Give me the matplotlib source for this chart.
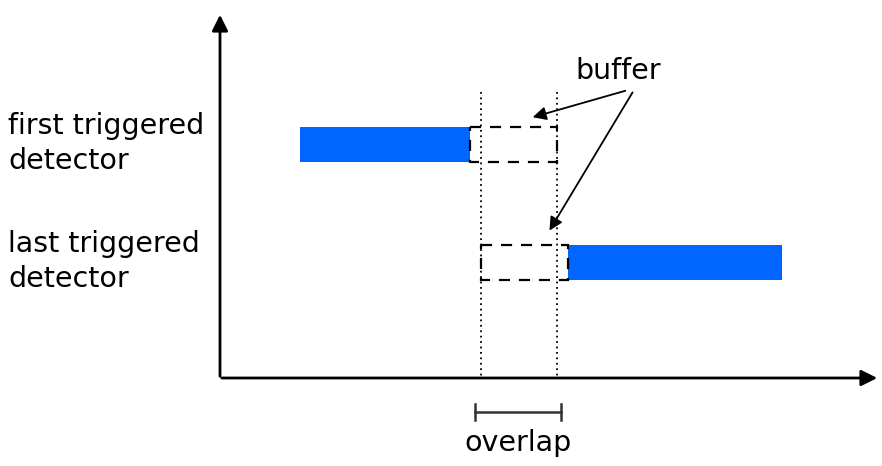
import matplotlib.pyplot as plt
from matplotlib.patches import Rectangle

# diagram data (in picture units, x grows right, y grows down)
row_labels = ['first triggered\ndetector', 'last triggered\ndetector']
row_top = [127, 245]
row_height = 35
bar_start = [300, 568]
bar_end = [470, 782]
buffer_start = [470, 481]
buffer_end = [557, 568]
overlap = [481, 557]
blue = '#0066ff'

fig = plt.figure(figsize=(8.82, 4.66), dpi=100)
ax = fig.add_axes([0, 0, 1, 1])
ax.set_xlim(0, 882)
ax.set_ylim(466, 0)
ax.axis('off')

# axes with arrows
ax.annotate('', xy=(220, 12), xytext=(220, 379),
            arrowprops=dict(arrowstyle='-|>', color='black', lw=2, mutation_scale=24))
ax.annotate('', xy=(880, 378), xytext=(219, 378),
            arrowprops=dict(arrowstyle='-|>', color='black', lw=2, mutation_scale=24))

# overlap limits
for xv in overlap:
    ax.plot([xv, xv], [92, 376], color='black', lw=1.3, ls=(0, (1, 2)))

# bars and buffers
for i in range(2):
    ax.add_patch(Rectangle((bar_start[i], row_top[i]), bar_end[i] - bar_start[i], row_height,
                           facecolor=blue, edgecolor='none'))
    ax.add_patch(Rectangle((buffer_start[i], row_top[i]), buffer_end[i] - buffer_start[i], row_height,
                           facecolor='none', edgecolor='black', lw=1.6, ls=(0, (5, 4))))
    ax.text(8, row_top[i] + row_height / 2 - 1, row_labels[i], fontsize=20.5,
            ha='left', va='center', linespacing=1.3)

# buffer label and arrows
ax.text(618, 71, 'buffer', fontsize=20.5, ha='center', va='center')
ax.annotate('', xy=(530, 118), xytext=(628, 90),
            arrowprops=dict(arrowstyle='-|>', color='black', lw=1.3, mutation_scale=20))
ax.annotate('', xy=(548, 233), xytext=(634, 90),
            arrowprops=dict(arrowstyle='-|>', color='black', lw=1.3, mutation_scale=20))

# overlap bracket
ax.plot([overlap[0] - 6, overlap[1] + 4], [412, 412], color='#333333', lw=1.8)
for xv in [overlap[0] - 6, overlap[1] + 4]:
    ax.plot([xv, xv], [404, 420], color='#333333', lw=1.8)
ax.text(518, 443, 'overlap', fontsize=20.5, ha='center', va='center')

fig.savefig('out.png', dpi=100)
